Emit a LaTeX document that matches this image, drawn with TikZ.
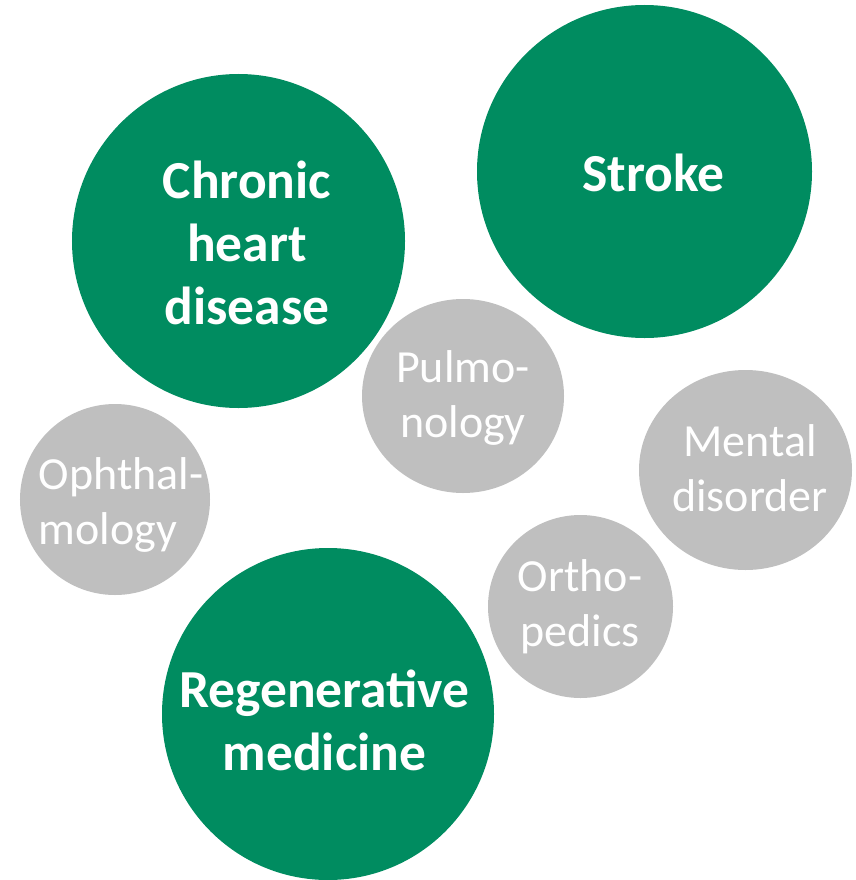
\documentclass[tikz,border=0pt]{standalone}
\usepackage{fontspec}
\setmainfont{Carlito}
\usetikzlibrary{shapes.geometric}
\definecolor{bubgreen}{RGB}{0,140,96}
\definecolor{bubgray}{RGB}{191,191,191}
\tikzset{
  bub/.style={ellipse, inner sep=0pt, draw=none},
  bigbub/.style={bub, fill=bubgreen},
  smallbub/.style={bub, fill=bubgray},
  bigtxt/.style={text=white, align=center, inner sep=0pt, font=\fontsize{53.5bp}{63bp}\selectfont\bfseries},
  smalltxt/.style={text=white, align=center, inner sep=0pt, font=\fontsize{46bp}{55bp}\selectfont},
}
\begin{document}
\begin{tikzpicture}[x=1bp, y=-1bp]
\useasboundingbox (0,0) rectangle (856,880);
% big green circles
\node[bigbub, minimum width=333bp, minimum height=334bp] (chd) at (238.5,241) {};
\node[bigbub, minimum width=335bp, minimum height=333bp] (stroke) at (644.5,171.5) {};
\node[bigbub, minimum width=332bp, minimum height=332bp] (regen) at (328,714) {};
% small gray circles
\node[smallbub, minimum width=202bp, minimum height=194bp] (pulmo) at (463,396) {};
\node[smallbub, minimum width=190bp, minimum height=191bp] (oph) at (115,499.5) {};
\node[smallbub, minimum width=213bp, minimum height=200bp] (mental) at (745.5,470) {};
\node[smallbub, minimum width=185bp, minimum height=183bp] (ortho) at (580.5,606.5) {};
% labels
\node[bigtxt] (chdt) at (247,243) {Chronic\\heart\\disease};
\node[bigtxt] (stroket) at (653.5,173) {Stroke};
\node[bigtxt] (regent) at (324.5,720) {Regenerative\\medicine};
\node[smalltxt] (pulmot) at (463,398) {Pulmo-\\nology};
\node[smalltxt, align=left] (opht) at (121,505) {Ophthal-\\mology};
\node[smalltxt] (mentalt) at (750,468) {Mental\\disorder};
\node[smalltxt] (orthot) at (580,607) {Ortho-\\pedics};
\end{tikzpicture}
\end{document}
